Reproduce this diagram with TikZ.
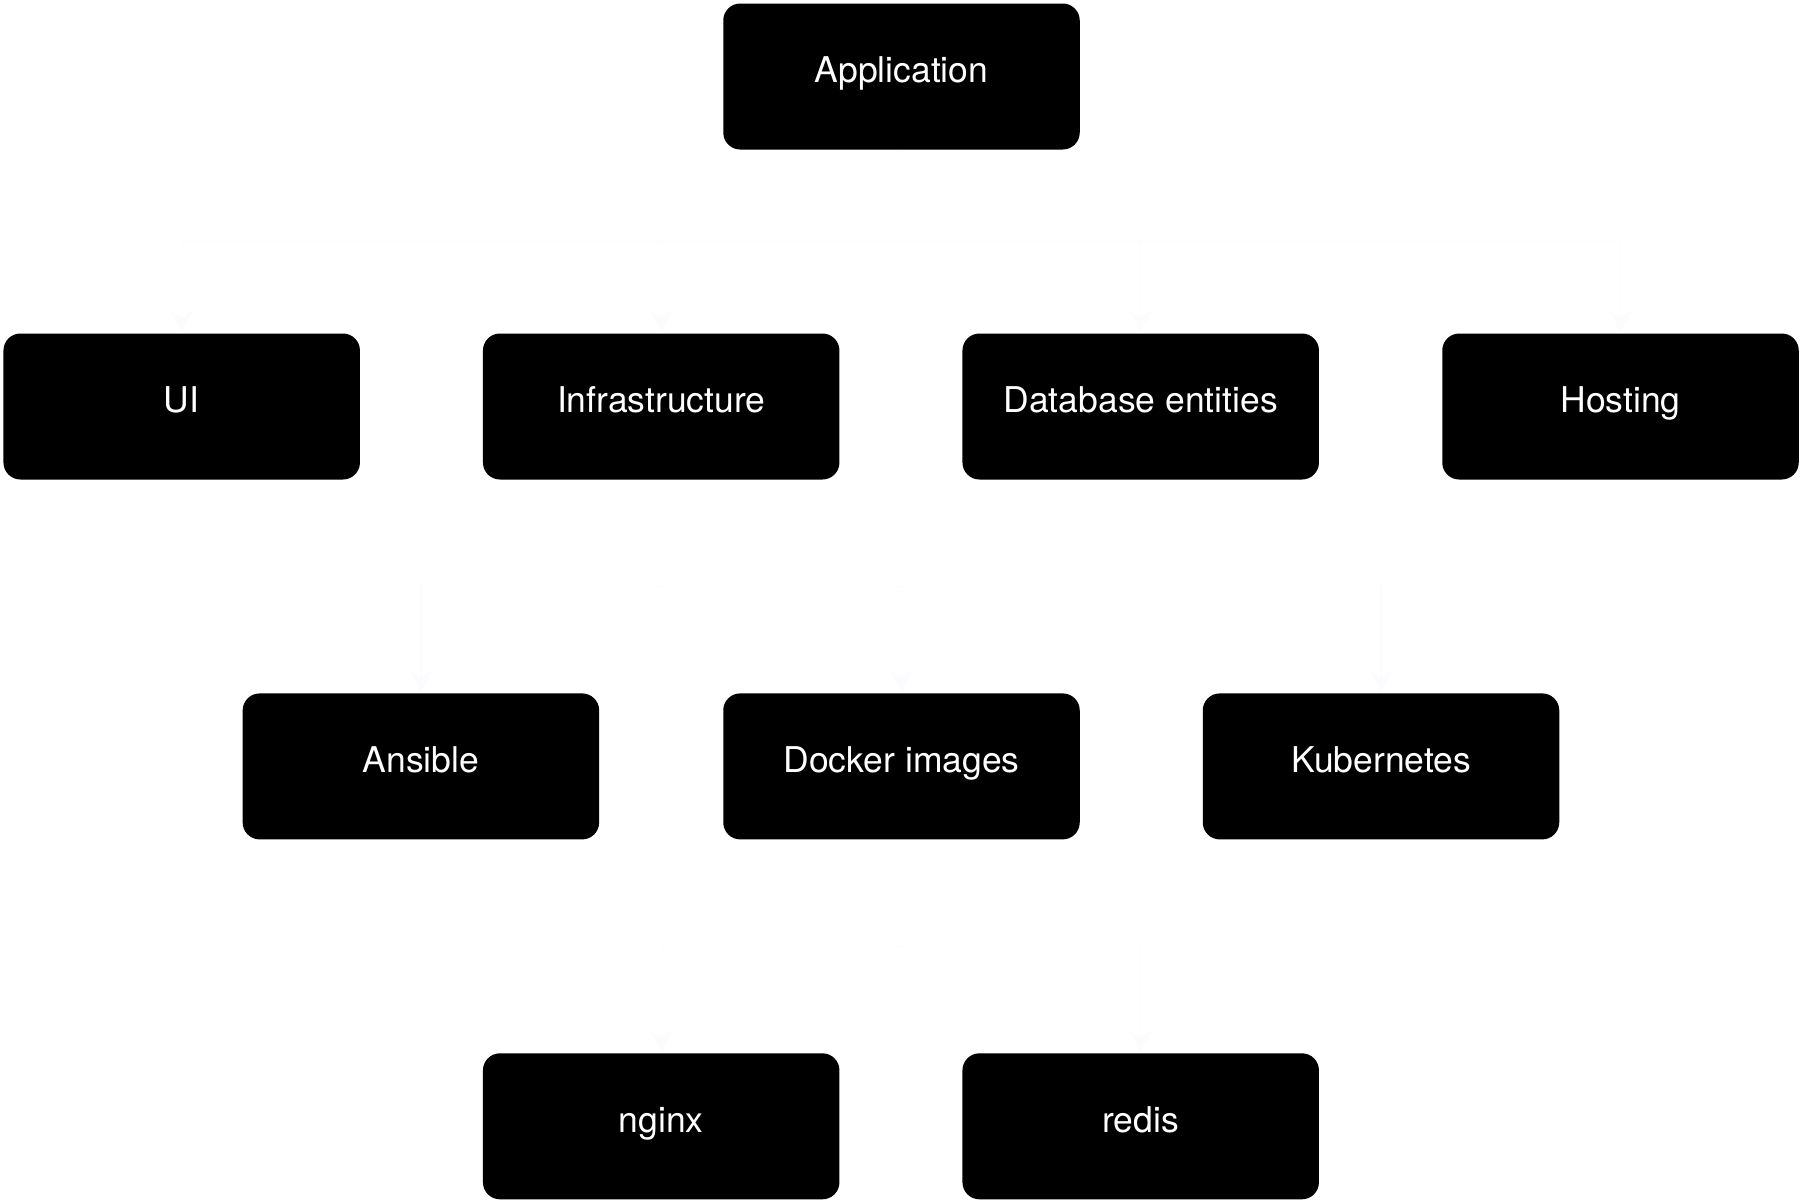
\documentclass[tikz,border=0pt]{standalone}
\usepackage{fontspec}
\setmainfont{TeX Gyre Heros}
\usepackage{tikz}
\usetikzlibrary{arrows,positioning,calc}
\usetikzlibrary{arrows.meta}
\definecolor{linkColor}{HTML}{FCFBFD}
\tikzset{module/.style={fill=black, text=white, rounded corners=0.17cm, minimum width=3.565cm,
	minimum height=1.46cm, inner sep=0pt, text height=0.55em, text depth=0.22em,
	font=\fontsize{10.1}{12}\selectfont}}
\tikzset{
	tree edge/.style={to path={(\tikztostart.south) |- ($(\tikztostart.south)!0.5!(\tikztotarget.north)$)
			-| (\tikztotarget.north) \tikztonodes}}
}

\begin{document}
\begin{tikzpicture}[->,>={Stealth[length=2.2mm,width=2.2mm]}, line width=0.4pt]
	\useasboundingbox (0,0) rectangle (18.03,-12.03);
	\node[module] at (9.015,-0.765) (app) {Application};
	\node[module] at (1.817,-4.065) (ui) {UI};
	\node[module] at (6.612,-4.065) (infra) {Infrastructure};
	\node[module] at (11.407,-4.065) (dbent) {Database entities};
	\node[module] at (16.205,-4.065) (hosting) {Hosting};
	\node[module] at (4.209,-7.664) (ansible) {Ansible};
	\node[module] at (9.015,-7.664) (docker) {Docker images};
	\node[module] at (13.81,-7.664) (kube) {Kubernetes};
	\node[module] at (6.612,-11.263) (nginx) {nginx};
	\node[module] at (11.407,-11.263) (redis) {redis};
	\path (app) edge[tree edge, linkColor] (ui);
	\path (app) edge[tree edge, linkColor] (infra);
	\path (app) edge[tree edge, linkColor] (dbent);
	\path (app) edge[tree edge, linkColor] (hosting);
	\path (infra) edge[tree edge, linkColor] (ansible);
	\path (infra) edge[tree edge, linkColor] (docker);
	\path (infra) edge[tree edge, linkColor] (kube);
	\path (docker) edge[tree edge, linkColor] (nginx);
	\path (docker) edge[tree edge, linkColor] (redis);
\end{tikzpicture}
\end{document}
